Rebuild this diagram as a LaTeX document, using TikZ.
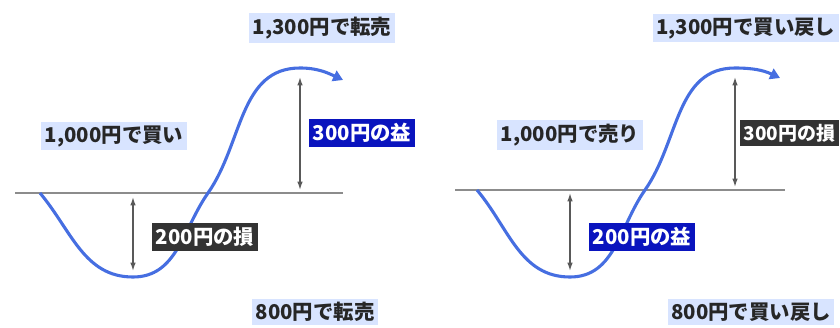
\documentclass[tikz,border=0pt]{standalone}
\usepackage{fontspec}
\setmainfont{Noto Sans CJK JP}
\usetikzlibrary{arrows.meta, positioning}
\definecolor{curveblue}{RGB}{70,110,225}
\definecolor{labelbg}{RGB}{216,228,255}
\definecolor{gainblue}{RGB}{10,20,190}

\begin{document}
\begin{tikzpicture}[x=0.025cm, y=-0.025cm,
                font=\fontsize{14.5}{16}\selectfont\bfseries,
                pricelabel/.style={fill=labelbg, inner sep=2.5pt, text=black!85},
                gainbox/.style={fill=gainblue, inner sep=3pt, text=white},
                lossbox/.style={fill=black!80, inner sep=3pt, text=white},
                priceline/.style={draw, curveblue, line width=2.2pt, -{Triangle[length=7pt,width=8pt]}},
                baseline/.style={draw, black!45, line width=1.6pt},
                span/.style={draw, black!65, line width=1pt, {Latex[length=6pt,width=4pt]}-{Latex[length=6pt,width=4pt]}}]

                \useasboundingbox (0,0) rectangle (840,328);

                % Left chart - buy then sell
                \coordinate (l-base-w) at (15,193);
                \coordinate (l-base-e) at (343,193);
                \coordinate (l-start) at (40,193);
                \coordinate (l-low) at (133,277);
                \coordinate (l-cross) at (208,193);
                \coordinate (l-peak) at (300,68);
                \coordinate (l-end) at (343,80);
                \draw[baseline] (l-base-w) -- (l-base-e);
                \draw[priceline] (l-start) to[out=-50,in=180] (l-low)
                    to[out=0,in=-125] (l-cross) to[out=55,in=180] (l-peak)
                    to[out=0,in=155] (l-end);

                \coordinate (l-loss-top) at (133,197);
                \coordinate (l-loss-bot) at (133,271);
                \coordinate (l-gain-top) at (300,77);
                \coordinate (l-gain-bot) at (300,190);
                \draw[span] (l-loss-top) -- (l-loss-bot);
                \draw[span] (l-gain-top) -- (l-gain-bot);

                \node[pricelabel] (l-sell-hi) at (322,28) {1,300円で転売};
                \node[pricelabel] (l-buy) at (114,136) {1,000円で買い};
                \node[gainbox] (l-gain) at (362,133) {300円の益};
                \node[lossbox] (l-loss) at (205,237) {200円の損};
                \node[pricelabel] (l-sell-lo) at (315,312) {800円で転売};

                % Right chart - sell then buy back
                \coordinate (r-base-w) at (455,190);
                \coordinate (r-base-e) at (785,190);
                \coordinate (r-start) at (477,190);
                \coordinate (r-low) at (570,277);
                \coordinate (r-cross) at (645,190);
                \coordinate (r-peak) at (735,68);
                \coordinate (r-end) at (780,78);
                \draw[baseline] (r-base-w) -- (r-base-e);
                \draw[priceline] (r-start) to[out=-50,in=180] (r-low)
                    to[out=0,in=-125] (r-cross) to[out=55,in=180] (r-peak)
                    to[out=0,in=155] (r-end);

                \coordinate (r-gain-top) at (570,193);
                \coordinate (r-gain-bot) at (570,271);
                \coordinate (r-loss-top) at (735,77);
                \coordinate (r-loss-bot) at (735,187);
                \draw[span] (r-gain-top) -- (r-gain-bot);
                \draw[span] (r-loss-top) -- (r-loss-bot);

                \node[pricelabel, anchor=east] (r-buy-hi) at (839,28) {1,300円で買い戻し};
                \node[pricelabel] (r-sell) at (570,135) {1,000円で売り};
                \node[lossbox, anchor=east, inner sep=2.5pt,
                      font=\fontsize{13.5}{15}\selectfont\bfseries] (r-loss) at (839,133) {300円の損};
                \node[gainbox] (r-gain) at (642,237) {200円の益};
                \node[pricelabel] (r-buy-lo) at (751,312) {800円で買い戻し};
\end{tikzpicture}
\end{document}
